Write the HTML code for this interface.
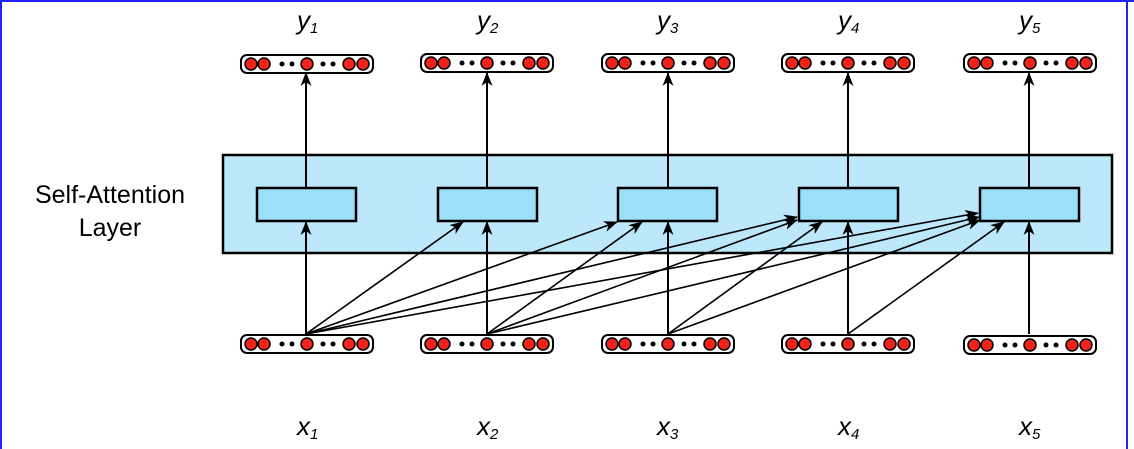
<!DOCTYPE html>
<html><head><meta charset="utf-8"><style>
html,body{margin:0;padding:0;background:#fff;}
svg{display:block;}
text{font-family:"Liberation Sans",sans-serif;}
</style></head><body>
<svg width="1134" height="449" viewBox="0 0 1134 449" xmlns="http://www.w3.org/2000/svg">
<defs>
<marker id="ah" markerWidth="14" markerHeight="11" refX="13" refY="5.5" orient="auto" markerUnits="userSpaceOnUse">
<path d="M0,0 L14,5.5 L0,11 L4,5.5 Z" fill="#000"/>
</marker>
<g id="vec">
<rect x="-66" y="-9" width="132" height="18" rx="6" fill="#fff" stroke="#000" stroke-width="2"/>
<circle cx="-56" cy="0" r="6" fill="#f0231a" stroke="#000" stroke-width="1.5"/>
<circle cx="-43" cy="0" r="6" fill="#f0231a" stroke="#000" stroke-width="1.5"/>
<circle cx="-25" cy="0" r="2.5" fill="#000"/>
<circle cx="-15" cy="0" r="2.5" fill="#000"/>
<circle cx="0" cy="0" r="6" fill="#f0231a" stroke="#000" stroke-width="1.5"/>
<circle cx="16" cy="0" r="2.5" fill="#000"/>
<circle cx="26" cy="0" r="2.5" fill="#000"/>
<circle cx="42" cy="0" r="6" fill="#f0231a" stroke="#000" stroke-width="1.5"/>
<circle cx="56" cy="0" r="6" fill="#f0231a" stroke="#000" stroke-width="1.5"/>
</g>
</defs>
<line x1="0" y1="1" x2="1134" y2="1" stroke="#2020ff" stroke-width="2"/>
<line x1="1" y1="0" x2="1" y2="449" stroke="#2020ff" stroke-width="2"/>
<line x1="1127" y1="0" x2="1127" y2="449" stroke="#2020ff" stroke-width="2"/>

<rect x="223" y="155" width="889" height="98" fill="#bde8fb" stroke="#000" stroke-width="2.5"/>
<g fill="#9bdff9" stroke="#000" stroke-width="2.5">
<rect x="257" y="188" width="99" height="33"/>
<rect x="438" y="188" width="99" height="33"/>
<rect x="618" y="188" width="99" height="33"/>
<rect x="799" y="188" width="99" height="33"/>
<rect x="980" y="188" width="99" height="33"/>
</g>

<text x="110" y="203" font-size="25" text-anchor="middle">Self-Attention</text>
<text x="110" y="236" font-size="25" text-anchor="middle">Layer</text>

<g stroke="#000" stroke-width="2" marker-end="url(#ah)">
<line x1="306" y1="188" x2="306" y2="73"/>
<line x1="487" y1="188" x2="487" y2="73"/>
<line x1="668" y1="188" x2="668" y2="73"/>
<line x1="848" y1="188" x2="848" y2="73"/>
<line x1="1029" y1="188" x2="1029" y2="73"/>
<line x1="306" y1="334" x2="306" y2="222"/>
<line x1="487" y1="334" x2="487" y2="222"/>
<line x1="668" y1="334" x2="668" y2="222"/>
<line x1="848" y1="334" x2="848" y2="222"/>
<line x1="1029" y1="334" x2="1029" y2="222"/>
</g>
<g stroke="#000" stroke-width="1.6" marker-end="url(#ah)">
<line x1="306" y1="334" x2="463" y2="222"/>
<line x1="306" y1="334" x2="617" y2="222"/>
<line x1="306" y1="334" x2="797" y2="217"/>
<line x1="306" y1="334" x2="978" y2="213"/>
<line x1="487" y1="334" x2="642" y2="222"/>
<line x1="487" y1="334" x2="797" y2="220"/>
<line x1="487" y1="334" x2="979" y2="217"/>
<line x1="668" y1="334" x2="822" y2="222"/>
<line x1="668" y1="334" x2="980" y2="220"/>
<line x1="848" y1="334" x2="1004" y2="222"/>
</g>

<use href="#vec" x="307" y="64"/>
<use href="#vec" x="487" y="63"/>
<use href="#vec" x="668" y="63"/>
<use href="#vec" x="848" y="63"/>
<use href="#vec" x="1030" y="63"/>
<use href="#vec" x="307" y="344"/>
<use href="#vec" x="487" y="344"/>
<use href="#vec" x="668" y="344"/>
<use href="#vec" x="848" y="344"/>
<use href="#vec" x="1030" y="345"/>

<g font-size="26" font-style="italic">
<text x="297" y="29">y<tspan font-size="15" dy="4">1</tspan></text>
<text x="477" y="29">y<tspan font-size="15" dy="4">2</tspan></text>
<text x="657" y="29">y<tspan font-size="15" dy="4">3</tspan></text>
<text x="838" y="29">y<tspan font-size="15" dy="4">4</tspan></text>
<text x="1019" y="29">y<tspan font-size="15" dy="4">5</tspan></text>
<text x="297" y="435">x<tspan font-size="15" dy="4">1</tspan></text>
<text x="477" y="435">x<tspan font-size="15" dy="4">2</tspan></text>
<text x="657" y="435">x<tspan font-size="15" dy="4">3</tspan></text>
<text x="838" y="435">x<tspan font-size="15" dy="4">4</tspan></text>
<text x="1019" y="435">x<tspan font-size="15" dy="4">5</tspan></text>
</g>
</svg>
</body></html>
